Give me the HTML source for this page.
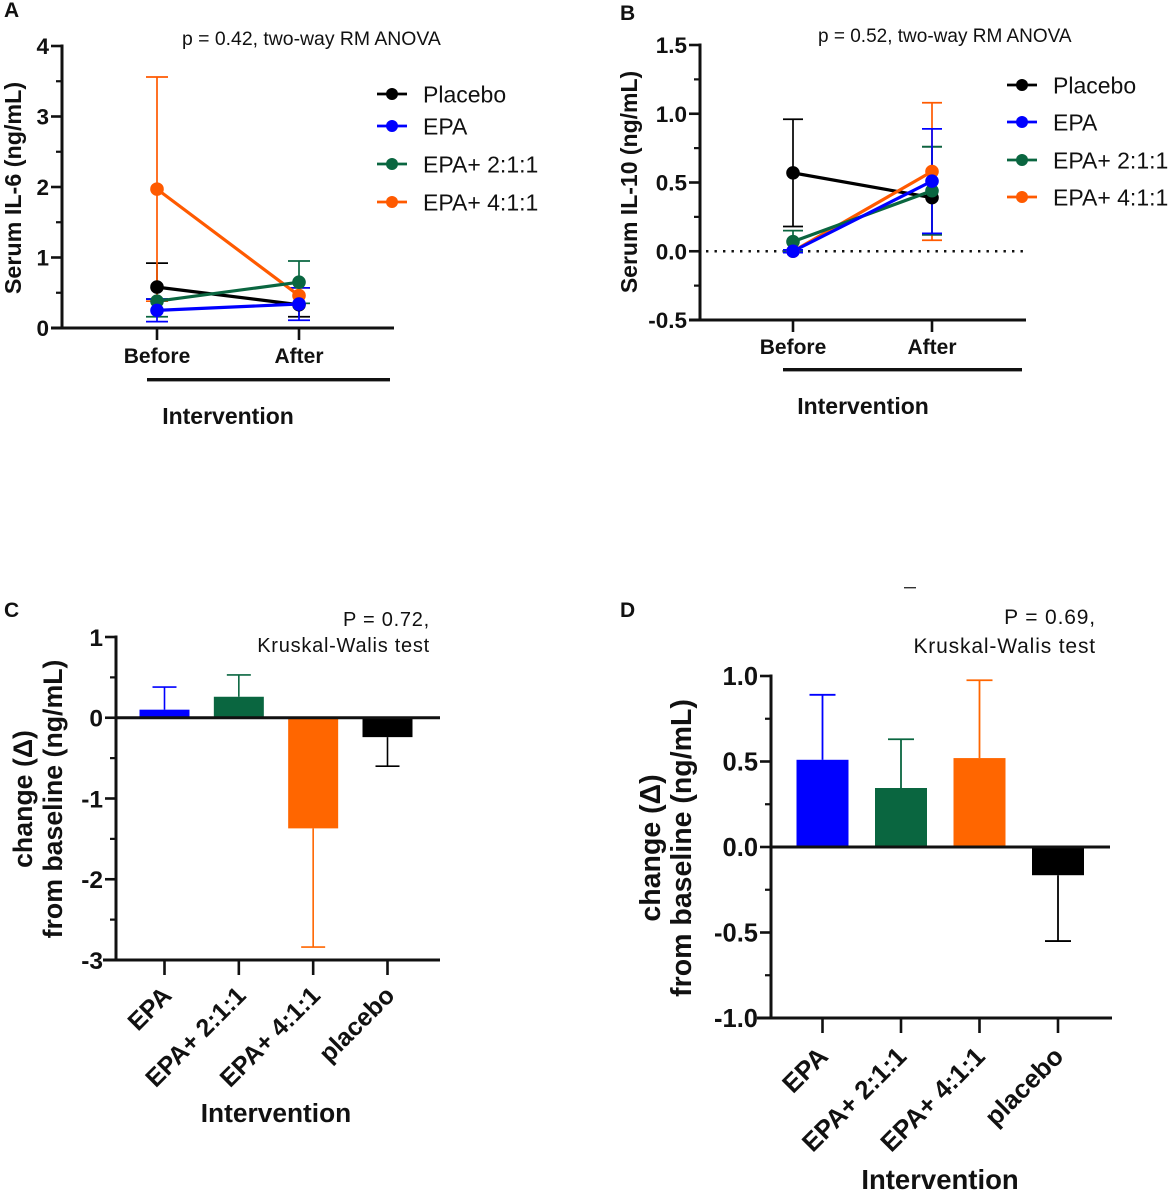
<!DOCTYPE html>
<html lang="en">
<head>
<meta charset="utf-8">
<title>Serum IL-6 and IL-10 panels</title>
<style>
html,body{margin:0;padding:0;background:#fff;width:1170px;height:1194px;overflow:hidden}
svg{display:block;font-family:"Liberation Sans",Arial,sans-serif;fill:#111}
.b{font-weight:bold}
</style>
</head>
<body>
<svg id="fig" width="1170" height="1194" viewBox="0 0 1170 1194" xmlns="http://www.w3.org/2000/svg">
  <text class="b" x="4" y="17" font-size="21">A</text>
  <text class="b" x="620" y="20" font-size="21">B</text>
  <text class="b" x="4" y="617" font-size="21">C</text>
  <text class="b" x="620" y="617" font-size="21">D</text>

  <text x="182" y="45" font-size="19.4">p = 0.42, two-way RM ANOVA</text>
  <text x="818" y="42" font-size="19">p = 0.52, two-way RM ANOVA</text>
  <text x="430" y="626" font-size="20" text-anchor="end" letter-spacing="0.75">P = 0.72,</text>
  <text x="430" y="652" font-size="20" text-anchor="end" letter-spacing="0.75">Kruskal-Walis test</text>
  <text x="1096" y="624" font-size="21" text-anchor="end" letter-spacing="0.85">P = 0.69,</text>
  <text x="1096" y="653" font-size="21" text-anchor="end" letter-spacing="0.85">Kruskal-Walis test</text>

  <text class="b" font-size="23.3" text-anchor="middle" transform="translate(21 188) rotate(-90)">Serum IL-6 (ng/mL)</text>
  <text class="b" font-size="23" text-anchor="middle" transform="translate(637 182) rotate(-90)">Serum IL-10 (ng/mL)</text>
  <text class="b" font-size="26.7" text-anchor="middle" transform="translate(32 799) rotate(-90)">change (Δ)</text>
  <text class="b" font-size="26.7" text-anchor="middle" transform="translate(62 799) rotate(-90)">from baseline (ng/mL)</text>
  <text class="b" font-size="28.5" text-anchor="middle" transform="translate(660 848) rotate(-90)">change (Δ)</text>
  <text class="b" font-size="28.5" text-anchor="middle" transform="translate(691 848) rotate(-90)">from baseline (ng/mL)</text>

  <rect x="147" y="378" width="243" height="3.4" fill="#111"/>
  <rect x="783" y="368" width="239" height="3.4" fill="#111"/>
  <text class="b" x="228" y="424" font-size="23" text-anchor="middle">Intervention</text>
  <text class="b" x="863" y="414" font-size="23" text-anchor="middle">Intervention</text>
  <text class="b" x="276" y="1122" font-size="26.3" text-anchor="middle">Intervention</text>
  <text class="b" x="940" y="1189" font-size="27.5" text-anchor="middle">Intervention</text>

  <rect x="904" y="587" width="12" height="1.4" fill="#333"/>
</svg>

<script>
/* ---------- Shared ---------- */
const seriesNames = ["Placebo", "EPA", "EPA+ 2:1:1", "EPA+ 4:1:1"];
const seriesColors = ["#000000", "#0000ff", "#0a6640", "#ff5a00"];
const drawOrder = [0, 3, 2, 1];
const timepoints = ["Before", "After"];
const barCategories = ["EPA", "EPA+ 2:1:1", "EPA+ 4:1:1", "placebo"];
const barColors = ["#0000ff", "#0a6640", "#ff6600", "#000000"];

/* ---------- Panel A: Serum IL-6 ---------- */
const aTicks = [0, 1, 2, 3, 4];
const aTickLabels = ["0", "1", "2", "3", "4"];
const aMinorTicks = [0.5, 1.5, 2.5, 3.5];
const aPlacebo = [0.58, 0.33];
const aPlaceboHigh = [0.92, 0.57];
const aPlaceboLow = [0.41, 0.16];
const aEpa = [0.25, 0.34];
const aEpaHigh = [0.41, 0.57];
const aEpaLow = [0.09, 0.11];
const aEpa211 = [0.38, 0.65];
const aEpa211High = [0.41, 0.95];
const aEpa211Low = [0.16, 0.35];
const aEpa411 = [1.97, 0.46];
const aEpa411High = [3.56, 0.57];
const aEpa411Low = [0.38, 0.35];

/* ---------- Panel B: Serum IL-10 ---------- */
const bTicks = [-0.5, 0, 0.5, 1, 1.5];
const bTickLabels = ["-0.5", "0.0", "0.5", "1.0", "1.5"];
const bMinorTicks = [-0.25, 0.25, 0.75, 1.25];
const bPlacebo = [0.57, 0.39];
const bPlaceboHigh = [0.96, 0.76];
const bPlaceboLow = [0.18, 0.12];
const bEpa = [0.0, 0.51];
const bEpaHigh = [0.01, 0.89];
const bEpaLow = [-0.01, 0.13];
const bEpa211 = [0.07, 0.44];
const bEpa211High = [0.15, 0.76];
const bEpa211Low = [0.0, 0.12];
const bEpa411 = [0.0, 0.58];
const bEpa411High = [0.01, 1.08];
const bEpa411Low = [-0.01, 0.08];

/* ---------- Panel C: change IL-6 ---------- */
const cTicks = [-3, -2, -1, 0, 1];
const cTickLabels = ["-3", "-2", "-1", "0", "1"];
const cMinorTicks = [-2.5, -1.5, -0.5, 0.5];
const cValues = [0.1, 0.26, -1.37, -0.24];
const cErrors = [0.38, 0.53, -2.84, -0.6];

/* ---------- Panel D: change IL-10 ---------- */
const dTicks = [-1, -0.5, 0, 0.5, 1];
const dTickLabels = ["-1.0", "-0.5", "0.0", "0.5", "1.0"];
const dMinorTicks = [-0.75, -0.25, 0.25, 0.75];
const dValues = [0.51, 0.345, 0.52, -0.165];
const dErrors = [0.89, 0.63, 0.975, -0.55];

const NS = "http://www.w3.org/2000/svg";
const fig = document.getElementById("fig");

function make(tag, attrs, text) {
  const node = document.createElementNS(NS, tag);
  for (const k in attrs) node.setAttribute(k, attrs[k]);
  if (text !== undefined) node.textContent = text;
  fig.appendChild(node);
  return node;
}
function linear(d0, d1, r0, r1) {
  return v => r0 + (v - d0) * (r1 - r0) / (d1 - d0);
}

function drawYAxis(panel, y, axisX, ticks, labels, minor, fontSize, top, bottom) {
  const spine = make("line", {x1: axisX, x2: axisX, y1: y(top) - 1.5, y2: y(bottom) + 1.5, stroke: "#111", "stroke-width": 3});
  
  
  ticks.forEach((t, i) => {
    const mark = make("line", {x1: axisX - 11, x2: axisX, y1: y(t), y2: y(t), stroke: "#111", "stroke-width": 2.6});
    
    
    const lab = make("text", {x: axisX - 13, y: y(t) + fontSize * 0.36, "font-size": fontSize, "font-weight": "bold", "text-anchor": "end"}, labels[i]);
    
    
  });
  minor.forEach(t => {
    const mark = make("line", {x1: axisX - 6, x2: axisX, y1: y(t), y2: y(t), stroke: "#111", "stroke-width": 2.2});
    
    
  });
}

function drawXAxis(panel, axisY, x0, x1) {
  const line = make("line", {x1: x0, x2: x1, y1: axisY, y2: axisY, stroke: "#111", "stroke-width": 3});
  
  
}

function drawSeries(panel, x, y, means, highs, lows, capHalf) {
  drawOrder.forEach(s => {
    const color = seriesColors[s];
    const key = seriesNames[s].toLowerCase().replace(/[+: ]+/g, '-');
    means[s].forEach((m, t) => {
      const px = x(timepoints[t]);
      const bar = make("line", {x1: px, x2: px, y1: y(highs[s][t]), y2: y(lows[s][t]), stroke: color, "stroke-width": 1.7});
      
      
      [highs[s][t], lows[s][t]].forEach(v => {
        const cap = make("line", {x1: px - capHalf, x2: px + capHalf, y1: y(v), y2: y(v), stroke: color, "stroke-width": 1.7});
        
        
      });
    });
  });
  drawOrder.forEach(s => {
    const color = seriesColors[s];
    const key = seriesNames[s].toLowerCase().replace(/[+: ]+/g, '-');
    const line = make("line", {x1: x(timepoints[0]), x2: x(timepoints[1]), y1: y(means[s][0]), y2: y(means[s][1]), stroke: color, "stroke-width": 3.2});
    
    
    means[s].forEach((m, t) => {
      const dot = make("circle", {cx: x(timepoints[t]), cy: y(m), r: 6.8, fill: color});
      
      
    });
  });
}

function drawXCats(panel, x, axisY, labelY, fontSize) {
  timepoints.forEach(c => {
    const mark = make("line", {x1: x(c), x2: x(c), y1: axisY, y2: axisY + 12, stroke: "#111", "stroke-width": 2.6});
    
    
    const lab = make("text", {x: x(c), y: labelY, "font-size": fontSize, "font-weight": "bold", "text-anchor": "middle"}, c);
    
    
  });
}

function drawLegend(panel, lineX0, lineX1, textX, rowYs, fontSize) {
  seriesNames.forEach((name, i) => {
    const ly = rowYs(i);
    const key = name.toLowerCase().replace(/[+: ]+/g, '-');
    const l = make("line", {x1: lineX0, x2: lineX1, y1: ly, y2: ly, stroke: seriesColors[i], "stroke-width": 2.8});
    
    
    const c = make("circle", {cx: (lineX0 + lineX1) / 2, cy: ly, r: 6, fill: seriesColors[i]});
    
    
    const t = make("text", {x: textX, y: ly + fontSize * 0.36, "font-size": fontSize}, name);
    
    
  });
}

function drawBars(panel, values, errors, y, xCenter, barWidth, capHalf, errWidth) {
  values.forEach((v, i) => {
    const px = xCenter(i);
    const color = barColors[i];
    const key = barCategories[i].toLowerCase().replace(/[+: ]+/g, '-');
    const whisker = make("line", {x1: px, x2: px, y1: y(v), y2: y(errors[i]), stroke: color, "stroke-width": errWidth});
    
    
    const cap = make("line", {x1: px - capHalf, x2: px + capHalf, y1: y(errors[i]), y2: y(errors[i]), stroke: color, "stroke-width": errWidth});
    
    
    const top = Math.min(y(v), y(0));
    const h = Math.abs(y(v) - y(0));
    const rect = make("rect", {x: px - barWidth / 2, y: top, width: barWidth, height: h, fill: color});
    
    
  });
}

function drawBarCats(panel, xCenter, axisY, tickLen, dx, labelY, fontSize) {
  barCategories.forEach((c, i) => {
    const px = xCenter(i);
    const key = c.toLowerCase().replace(/[+: ]+/g, '-');
    const mark = make("line", {x1: px, x2: px, y1: axisY, y2: axisY + tickLen, stroke: "#111", "stroke-width": 2.6});
    
    
    const lab = make("text", {"font-size": fontSize, "font-weight": "bold", "text-anchor": "end", transform: "translate(" + (px + dx) + " " + labelY + ") rotate(-45)"}, c);
    
    
  });
}

/* Panel A */
const yA = linear(0, 4, 328, 46);
const xA = c => linear(0, 1, 157, 299)(timepoints.indexOf(c));
drawYAxis("a", yA, 62, aTicks, aTickLabels, aMinorTicks, 22.5, 4, 0);
drawXAxis("a", yA(0), 51, 394);
drawXCats("a", xA, yA(0), 363, 21);
drawSeries("a", xA, yA,
  [aPlacebo, aEpa, aEpa211, aEpa411],
  [aPlaceboHigh, aEpaHigh, aEpa211High, aEpa411High],
  [aPlaceboLow, aEpaLow, aEpa211Low, aEpa411Low], 11);
drawLegend("a", 377, 407, 423, i => [94, 126, 164, 202][i], 23);

/* Panel B */
const yB = linear(-0.5, 1.5, 320, 45);
const xB = c => linear(0, 1, 793, 932)(timepoints.indexOf(c));
const zeroB = make("line", {x1: 706, x2: 1026, y1: yB(0), y2: yB(0), stroke: "#111", "stroke-width": 2.4, "stroke-dasharray": "2.4 6.1"});


drawYAxis("b", yB, 700, bTicks, bTickLabels, bMinorTicks, 22.5, 1.5, -0.5);
drawXAxis("b", yB(-0.5), 689, 1026);
drawXCats("b", xB, yB(-0.5), 354, 21);
drawSeries("b", xB, yB,
  [bPlacebo, bEpa, bEpa211, bEpa411],
  [bPlaceboHigh, bEpaHigh, bEpa211High, bEpa411High],
  [bPlaceboLow, bEpaLow, bEpa211Low, bEpa411Low], 10);
drawLegend("b", 1007, 1037, 1053, i => [85, 122, 160, 197][i], 23);

/* Panel C */
const yC = linear(-3, 1, 960, 637);
const xC = i => linear(0, 3, 164.5, 387.5)(i);
drawBars("c", cValues, cErrors, yC, xC, 50, 12, 1.6);
drawYAxis("c", yC, 116, cTicks, cTickLabels, cMinorTicks, 24.5, 1, -3);
drawXAxis("c", yC(-3), 103, 440);
const zeroC = make("line", {x1: 116, x2: 440, y1: yC(0), y2: yC(0), stroke: "#111", "stroke-width": 3});


drawBarCats("c", xC, yC(-3), 15, 8.5, 997, 25);

/* Panel D */
const yD = linear(-1, 1, 1018, 676);
const xD = i => linear(0, 3, 822.5, 1058)(i);
drawBars("d", dValues, dErrors, yD, xD, 52, 13, 1.8);
drawYAxis("d", yD, 771, dTicks, dTickLabels, dMinorTicks, 25.5, 1, -1);
drawXAxis("d", yD(-1), 757, 1112);
const zeroD = make("line", {x1: 771, x2: 1110, y1: yD(0), y2: yD(0), stroke: "#111", "stroke-width": 3});


drawBarCats("d", xD, yD(-1), 15, 7, 1058, 26);
</script>
</body>
</html>
